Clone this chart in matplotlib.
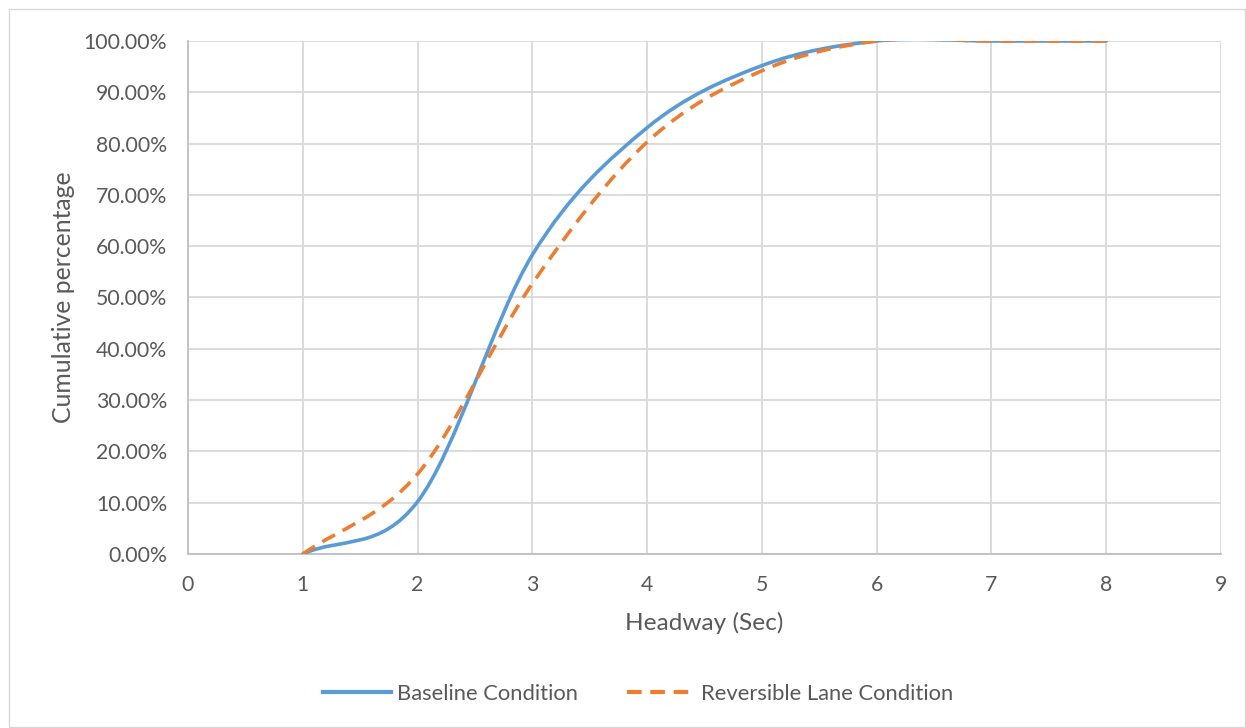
import matplotlib
matplotlib.use('Agg')
import matplotlib.pyplot as plt
from matplotlib.path import Path
from matplotlib.patches import PathPatch, Rectangle
from matplotlib.lines import Line2D
from matplotlib.ticker import PercentFormatter

plt.rcParams['font.family'] = ['Lato', 'DejaVu Sans']

# Headway (s) and cumulative share of vehicles
headway = [1, 2, 3, 4, 5, 6, 7, 8]
baseline = [0.0, 0.102, 0.583, 0.831, 0.952, 1.0, 1.0, 1.0]
reversible = [0.0, 0.156, 0.527, 0.803, 0.942, 1.0, 1.0, 1.0]

x_ticks = list(range(0, 10))
y_ticks = [i / 10 for i in range(0, 11)]


# Excel style smoothed line: cubic Bezier segments through the points
def smooth_path(xs, ys):
    pts = list(zip(xs, ys))
    # phantom end points (mirrored)
    first = (2 * pts[0][0] - pts[1][0], 2 * pts[0][1] - pts[1][1])
    last = (2 * pts[-1][0] - pts[-2][0], 2 * pts[-1][1] - pts[-2][1])
    ext = [first] + pts + [last]
    verts = [pts[0]]
    codes = [Path.MOVETO]
    for i in range(1, len(ext) - 2):
        p0, p1, p2, p3 = ext[i - 1], ext[i], ext[i + 1], ext[i + 2]
        c1 = (p1[0] + (p2[0] - p0[0]) / 6, p1[1] + (p2[1] - p0[1]) / 6)
        c2 = (p2[0] - (p3[0] - p1[0]) / 6, p2[1] - (p3[1] - p1[1]) / 6)
        verts += [c1, c2, p2]
        codes += [Path.CURVE4] * 3
    return Path(verts, codes)


blue = '#5B9BD5'
orange = '#ED7D31'
text_col = '#595959'

fig = plt.figure(figsize=(12.46, 7.28), dpi=100)
ax = fig.add_axes([188 / 1246, 1 - 554 / 728, (1221 - 188) / 1246, (554 - 41) / 728])

ax.add_patch(PathPatch(smooth_path(headway, baseline), fill=False, edgecolor=blue,
                       lw=2.6, capstyle='round', zorder=3))
ax.add_patch(PathPatch(smooth_path(headway, reversible), fill=False, edgecolor=orange,
                       lw=2.6, linestyle=(0, (4, 2.4)), zorder=4))

ax.set_xlim(0, 9)
ax.set_ylim(0, 1)
ax.set_xticks(x_ticks)
ax.set_yticks(y_ticks)
ax.yaxis.set_major_formatter(PercentFormatter(1.0, decimals=2))
ax.grid(True, color='#d9d9d9', lw=1.3)
ax.set_axisbelow(True)
ax.tick_params(axis='y', length=0, labelsize=15.3, colors=text_col, pad=15)
ax.tick_params(axis='x', length=0, labelsize=15.3, colors=text_col, pad=15)
for s in ['top', 'right']:
    ax.spines[s].set_visible(False)
for s in ['left', 'bottom']:
    ax.spines[s].set_color('#bfbfbf')
    ax.spines[s].set_linewidth(1.3)

ax.set_xlabel('Headway (Sec)', fontsize=17.6, color=text_col, labelpad=12)
ax.set_ylabel('Cumulative percentage', fontsize=17.8, color=text_col, labelpad=6)

handles = [Line2D([], [], color=blue, lw=3),
           Line2D([], [], color=orange, lw=3, linestyle=(0, (3.5, 2.1)))]
fig.legend(handles, ['Baseline Condition', 'Reversible Lane Condition'],
           loc='center', bbox_to_anchor=(638 / 1246, 1 - 694 / 728), ncol=2,
           frameon=False, fontsize=15.8, labelcolor=text_col, handlelength=3.1,
           columnspacing=2.2, handletextpad=0.3)

fig.patches.append(Rectangle((9 / 1246, 0.002), 1 - 10 / 1246, 1 - 10 / 728,
                             transform=fig.transFigure, fill=False,
                             edgecolor='#d9d9d9', lw=1))

fig.savefig('out.png', dpi=100)
